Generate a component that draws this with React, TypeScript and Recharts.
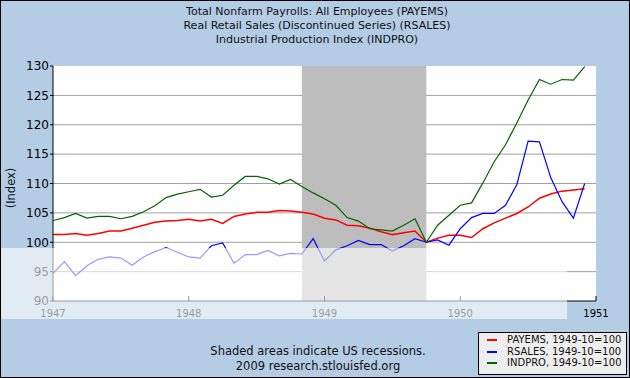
import { LineChart, Line, XAxis, YAxis, CartesianGrid, ReferenceArea } from "recharts"

// Monthly values, Jan 1947 - Dec 1950, index 1949-10 = 100
const payems = [
  101.3, 101.3, 101.5, 101.2, 101.5, 101.9, 101.9, 102.4, 102.9, 103.4, 103.6, 103.7,
  103.9, 103.6, 103.9, 103.2, 104.4, 104.8, 105.1, 105.1, 105.4, 105.3, 105.1, 104.8,
  104.1, 103.8, 102.9, 102.8, 102.4, 101.8, 101.3, 101.6, 101.9, 100.0, 100.7, 101.2,
  101.2, 100.8, 102.3, 103.3, 104.1, 104.9, 106.0, 107.5, 108.2, 108.7, 108.9, 109.1,
]
const rsales = [
  94.7, 96.7, 94.3, 96.0, 97.1, 97.5, 97.3, 96.1, 97.5, 98.4, 99.1, 98.3,
  97.5, 97.3, 99.4, 99.9, 96.4, 97.9, 97.9, 98.6, 97.7, 98.1, 98.0, 100.6,
  96.8, 98.7, 99.4, 100.3, 99.6, 99.6, 98.5, 99.4, 100.6, 100.0, 100.4, 99.5,
  102.3, 104.2, 104.9, 104.9, 106.3, 109.8, 117.2, 117.1, 111.0, 106.9, 104.1, 110.0,
]
const indpro = [
  103.7, 104.2, 104.9, 104.1, 104.4, 104.4, 104.0, 104.4, 105.2, 106.2, 107.6, 108.2,
  108.6, 109.0, 107.7, 108.0, 109.7, 111.2, 111.2, 110.8, 109.9, 110.7, 109.5, 108.4,
  107.4, 106.3, 104.2, 103.6, 102.3, 102.1, 101.9, 102.9, 104.0, 100.0, 102.9, 104.6,
  106.3, 106.7, 110.1, 113.7, 116.6, 120.3, 124.2, 127.7, 126.9, 127.7, 127.6, 129.9,
]

const years = [1947, 1948, 1949, 1950]
const months = years.flatMap((y) => Array.from({ length: 12 }, (_, m) => ({ year: y, month: m + 1 })))

const xTicks = [1947, 1948, 1949, 1950, 1951]
const yTicks = [90, 95, 100, 105, 110, 115, 120, 125, 130]
const gridValues = [95, 100, 105, 110, 115, 120, 125]

// recession Nov 1948 - Oct 1949
const recessionStart = { year: 1948, month: 11 }
const recessionEnd = { year: 1949, month: 10 }

const titleLines = [
  "Total Nonfarm Payrolls: All Employees (PAYEMS)",
  "Real Retail Sales (Discontinued Series) (RSALES)",
  "Industrial Production Index (INDPRO)",
]

const series = [
  { key: "payems", label: "PAYEMS, 1949-10=100", color: "#ff0000", width: 1.5 },
  { key: "rsales", label: "RSALES, 1949-10=100", color: "#0000ff", width: 1.2 },
  { key: "indpro", label: "INDPRO, 1949-10=100", color: "#006400", width: 1.2 },
]

const toYear = (d: { year: number; month: number }) => d.year + (d.month - 1) / 12

const data = months.map((d, i) => ({
  t: toYear(d),
  payems: payems[i],
  rsales: rsales[i],
  indpro: indpro[i],
}))

const font = "'DejaVu Sans', Verdana, sans-serif"

const XTick = (props: any) => {
  const { x, y, payload } = props
  return (
    <g>
      <line x1={x} x2={x} y1={y} y2={y - 5} stroke="#000" />
      <text x={x} y={y + 16} textAnchor="middle" fontSize={10} fill="#000" fontFamily={font}>
        {payload.value}
      </text>
    </g>
  )
}

export default function App() {
  return (
    <div
      style={{
        position: "relative",
        width: 630,
        height: 378,
        background: "#b4cce4",
        fontFamily: font,
        color: "#111",
        overflow: "hidden",
      }}
    >
      <style>{`body{margin:0}`}</style>

      {titleLines.map((line, i) => (
        <div
          key={line}
          style={{
            position: "absolute",
            left: 0,
            width: 634,
            top: 5 + i * 14,
            textAlign: "center",
            fontSize: 11,
            lineHeight: "14px",
          }}
        >
          {line}
        </div>
      ))}

      <div
        style={{
          position: "absolute",
          left: 11,
          top: 188,
          transform: "translate(-50%, -50%) rotate(-90deg)",
          fontSize: 11.5,
          whiteSpace: "nowrap",
        }}
      >
        (Index)
      </div>

      <div style={{ position: "absolute", left: 0, top: 0 }}>
        <LineChart width={630} height={378} data={data} margin={{ top: 66, right: 34, bottom: 57, left: 0 }}>
          <CartesianGrid
            vertical={false}
            horizontalValues={gridValues}
            stroke="#a0a0a0"
            fill="#ffffff"
          />
          <ReferenceArea
            x1={toYear(recessionStart)}
            x2={toYear(recessionEnd)}
            fill="#bdbdbd"
            fillOpacity={1}
            stroke="none"
          />
          <XAxis
            dataKey="t"
            type="number"
            domain={[1947, 1951]}
            ticks={xTicks}
            height={20}
            tickSize={0}
            tickMargin={0}
            tickLine={false}
            axisLine={{ stroke: "#000" }}
            tick={<XTick />}
            interval={0}
            allowDataOverflow
          />
          <YAxis
            type="number"
            domain={[90, 130]}
            ticks={yTicks}
            width={53}
            tickSize={3}
            tickMargin={1}
            axisLine={{ stroke: "#000" }}
            tickLine={{ stroke: "#000" }}
            tick={{ fontSize: 12, fill: "#000", fontFamily: font }}
            interval={0}
            allowDataOverflow
          />
          {series.map((s) => (
            <Line
              key={s.key}
              type="linear"
              dataKey={s.key}
              stroke={s.color}
              strokeWidth={s.width}
              dot={false}
              activeDot={false}
              isAnimationActive={false}
            />
          ))}
        </LineChart>
      </div>

      {/* watermark band */}
      <div
        style={{
          position: "absolute",
          left: 1,
          top: 248,
          width: 566,
          height: 71,
          background: "rgba(255,255,255,0.6)",
          pointerEvents: "none",
        }}
      />

      <div
        style={{
          position: "absolute",
          left: 0,
          width: 636,
          top: 344,
          textAlign: "center",
          fontSize: 11.5,
          lineHeight: "14.5px",
        }}
      >
        <div>Shaded areas indicate US recessions.</div>
        <div>2009 research.stlouisfed.org</div>
      </div>

      <div
        style={{
          position: "absolute",
          left: 478,
          top: 332,
          width: 149,
          height: 43,
          boxSizing: "border-box",
          background: "#eeeeee",
          border: "1px solid #000",
          fontSize: 10,
        }}
      >
        {series.map((s, i) => (
          <div
            key={s.key}
            style={{ position: "absolute", left: 0, top: 1 + i * 11.5, height: 12, lineHeight: "12px", whiteSpace: "nowrap" }}
          >
            <span
              style={{
                position: "absolute",
                left: 8,
                top: 5,
                width: 10,
                height: 2,
                background: s.color,
              }}
            />
            <span style={{ position: "absolute", left: 28, top: 0 }}>{s.label}</span>
          </div>
        ))}
      </div>

      <div
        style={{
          position: "absolute",
          inset: 0,
          border: "1px solid #000",
          pointerEvents: "none",
        }}
      />
    </div>
  )
}
